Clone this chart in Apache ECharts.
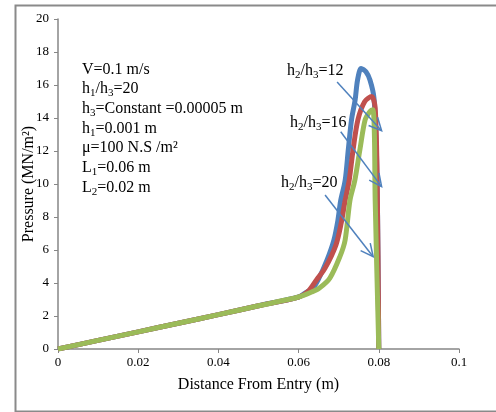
<!DOCTYPE html>
<html>
<head>
<meta charset="utf-8">
<title>Pressure distribution</title>
<script src="https://cdn.jsdelivr.net/npm/echarts@6/dist/echarts.min.js"></script>
<style>
  html, body { margin: 0; padding: 0; background: #fff; }
  #chart { width: 496px; height: 412px; }
</style>
</head>
<body>
<div id="chart"></div>
<script>
// axis ticks
var xTicks = [0, 0.02, 0.04, 0.06, 0.08, 0.1];
var yTicks = [0, 2, 4, 6, 8, 10, 12, 14, 16, 18, 20];

// shared linear part (0 .. 0.06 m)
var linX = [0, 0.01, 0.02, 0.03, 0.04, 0.05, 0.06];
var linY = [0, 0.52, 1.04, 1.56, 2.08, 2.62, 3.15];

// h2/h3 = 12
var blueX = [0.062, 0.0633, 0.0649, 0.0671, 0.0688, 0.0698, 0.0705, 0.0716, 0.0724, 0.0732, 0.0741, 0.0747, 0.0756, 0.0768, 0.0778, 0.0788, 0.0794, 0.0797, 0.08];
var blueY = [3.45, 3.6, 4.2, 5.4, 6.6, 7.8, 9.0, 10.2, 12.1, 13.9, 15.1, 16.3, 17.0, 16.8, 16.3, 15.2, 12.0, 8.0, 0];

// h2/h3 = 16
var redX = [0.0624, 0.0645, 0.0666, 0.0693, 0.0706, 0.0716, 0.0726, 0.0736, 0.0748, 0.0765, 0.0782, 0.0791, 0.0796, 0.08];
var redY = [3.5, 4.2, 4.9, 6.3, 7.6, 9.0, 10.2, 12.1, 13.9, 15.0, 15.3, 14.6, 10.0, 0];

// h2/h3 = 20
var greenX = [0.0632, 0.0652, 0.0678, 0.0703, 0.0716, 0.0728, 0.074, 0.0753, 0.0766, 0.0778, 0.0785, 0.0789, 0.0791, 0.08];
var greenY = [3.45, 3.7, 4.3, 5.6, 6.6, 9.0, 10.2, 12.1, 13.9, 14.4, 14.5, 13.0, 9.0, 0];

// annotation arrows [x1, y1, x2, y2] in data units
var arrows = [
  [0.0696, 16.18, 0.0807, 13.23],
  [0.0705, 13.17, 0.0807, 9.84],
  [0.0666, 9.33, 0.0786, 5.59]
];

function pairs(xs, ys) {
  return linX.map(function (x, i) { return [x, linY[i]]; })
    .concat(xs.map(function (x, i) { return [x, ys[i]]; }));
}

var serif = "'Liberation Serif', 'Times New Roman', serif";
var rich = {
  n: { fontFamily: serif, fontSize: 16, color: '#000', lineHeight: 18.2 },
  s: { fontFamily: serif, fontSize: 11, color: '#000', lineHeight: 20, verticalAlign: 'bottom' }
};
function richBox(x, y, text) {
  return { type: 'text', left: x, top: y, style: { text: text, rich: rich } };
}

var chart = echarts.init(document.getElementById('chart'));

var lineCommon = {
  type: 'line',
  smooth: 0.3,
  showSymbol: false,
  symbol: 'none',
  silent: true
};

var option = {
  animation: false,
  backgroundColor: '#fff',
  grid: { left: 58, right: 37, top: 19, bottom: 63 },
  xAxis: {
    type: 'value',
    min: xTicks[0],
    max: xTicks[xTicks.length - 1],
    interval: 0.02,
    name: 'Distance From Entry (m)',
    nameLocation: 'middle',
    nameGap: 28,
    nameMoveOverlap: false,
    nameTextStyle: { fontFamily: serif, fontSize: 16, color: '#000' },
    axisLine: { lineStyle: { color: '#868686', width: 1.5 } },
    axisTick: { show: true, length: 4, lineStyle: { color: '#868686' } },
    axisLabel: { fontFamily: serif, fontSize: 13, color: '#000', margin: 7 },
    splitLine: { show: false }
  },
  yAxis: {
    type: 'value',
    min: yTicks[0],
    max: yTicks[yTicks.length - 1],
    interval: 2,
    name: 'Pressure (MN/m²)',
    nameLocation: 'middle',
    nameGap: 21,
    nameMoveOverlap: false,
    nameTextStyle: { fontFamily: serif, fontSize: 16, color: '#000' },
    axisLine: { show: true, lineStyle: { color: '#868686', width: 1.5 } },
    axisTick: { show: true, length: 4, lineStyle: { color: '#868686' } },
    axisLabel: { fontFamily: serif, fontSize: 13, color: '#000', margin: 9 },
    splitLine: { show: false }
  },
  series: [
    Object.assign({}, lineCommon, {
      name: 'h2/h3=12', data: pairs(blueX, blueY),
      lineStyle: { color: '#4F81BD', width: 5 }, z: 2
    }),
    Object.assign({}, lineCommon, {
      name: 'h2/h3=16', data: pairs(redX, redY),
      lineStyle: { color: '#C0504D', width: 5 }, z: 3
    }),
    Object.assign({}, lineCommon, {
      name: 'h2/h3=20', data: pairs(greenX, greenY),
      lineStyle: { color: '#9BBB59', width: 5 }, z: 4
    }),
    {
      type: 'custom',
      silent: true,
      z: 5,
      data: arrows,
      renderItem: function (params, api) {
        var p1 = api.coord([api.value(0), api.value(1)]);
        var p2 = api.coord([api.value(2), api.value(3)]);
        var ang = Math.atan2(p2[1] - p1[1], p2[0] - p1[0]);
        var len = 14, spread = 0.45;
        var a = [p2[0] - len * Math.cos(ang - spread), p2[1] - len * Math.sin(ang - spread)];
        var b = [p2[0] - len * Math.cos(ang + spread), p2[1] - len * Math.sin(ang + spread)];
        var st = { stroke: '#4F81BD', lineWidth: 1.5, fill: null };
        return {
          type: 'group',
          children: [
            { type: 'line', shape: { x1: p1[0], y1: p1[1], x2: p2[0], y2: p2[1] }, style: st },
            { type: 'polyline', shape: { points: [a, p2, b] }, style: st }
          ]
        };
      }
    }
  ],
  graphic: [
    {
      type: 'rect', left: 13, top: 3, silent: true,
      shape: { width: 500, height: 406 },
      style: { fill: null, stroke: '#8a8a8a', lineWidth: 2 }
    },
    richBox(82, 62,
      '{n|V=0.1 m/s}\n' +
      '{n|h}{s|1}{n|/h}{s|3}{n|=20}\n' +
      '{n|h}{s|3}{n|=Constant =0.00005 m}\n' +
      '{n|h}{s|1}{n|=0.001 m}\n' +
      '{n|μ=100 N.S /m²}\n' +
      '{n|L}{s|1}{n|=0.06 m}\n' +
      '{n|L}{s|2}{n|=0.02 m}'),
    richBox(287, 63, '{n|h}{s|2}{n|/h}{s|3}{n|=12}'),
    richBox(290, 115, '{n|h}{s|2}{n|/h}{s|3}{n|=16}'),
    richBox(281, 175, '{n|h}{s|2}{n|/h}{s|3}{n|=20}')
  ]
};

chart.setOption(option);
</script>
</body>
</html>
